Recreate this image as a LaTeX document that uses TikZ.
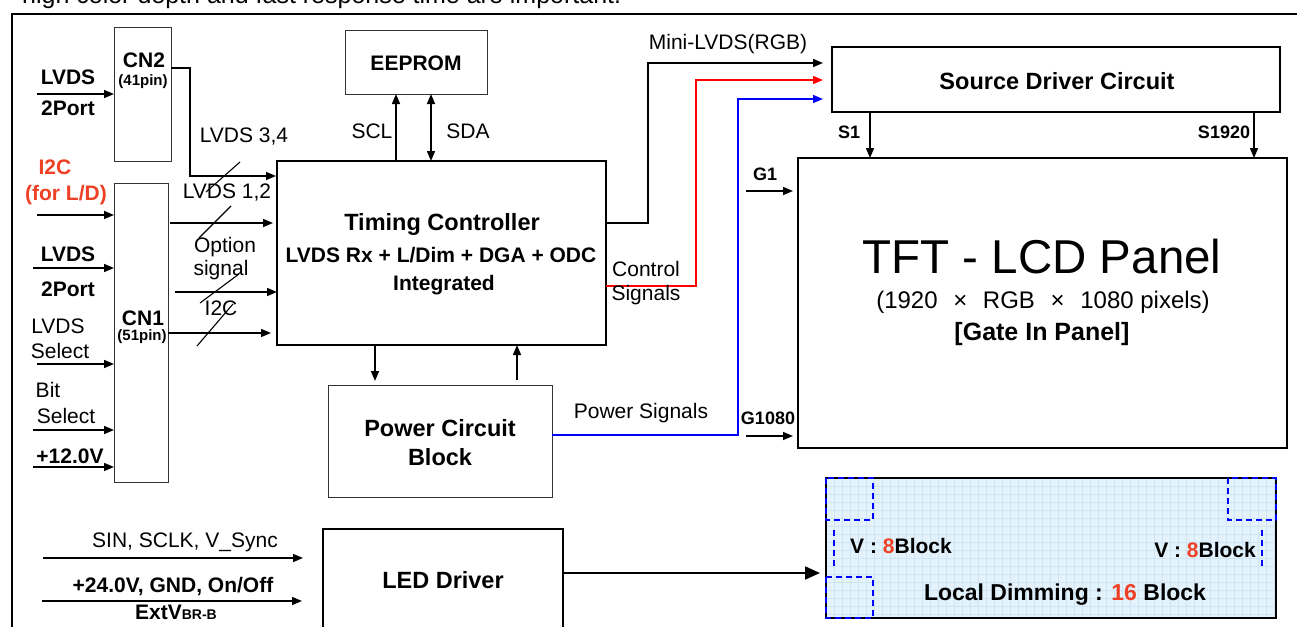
\documentclass[tikz,border=0pt]{standalone}
\usepackage{fontspec}
\setmainfont{Liberation Sans}
\usetikzlibrary{arrows.meta}
\newcommand\fsz[1]{\fontsize{#1}{#1}\selectfont}
\definecolor{lred}{RGB}{238,64,36}
\definecolor{ldfill}{RGB}{228,242,252}
\definecolor{ldgrid}{RGB}{206,229,246}
\begin{document}
\begin{tikzpicture}[x=1pt,y=-1pt,
  box/.style={draw, line width=1.3pt, inner sep=0pt, outer sep=0pt},
  thinbox/.style={draw=black!80, line width=0.9pt, inner sep=0pt, outer sep=0pt},
  txt/.style={inner sep=0pt, font=\fsz{21}},
  btxt/.style={inner sep=0pt, font=\fsz{21}\bfseries},
  rtxt/.style={inner sep=0pt, font=\fsz{21}\bfseries, text=lred},
  conn/.style={line width=1.5pt, -{Triangle[length=10pt,width=8pt]}},
  slash/.style={line width=1.1pt},
  bdash/.style={draw=blue, line width=1.5pt, dash pattern=on 6pt off 4pt},
]
\useasboundingbox (0,0) rectangle (1297,626);
\clip (0,0) rectangle (1297,626);
\fill[white] (0,0) rectangle (1297,626);

% outer frame and cut-off caption
\draw[line width=1.4pt] (12,660) -- (12,14) -- (1310,14);
\node[inner sep=0pt, font=\fsz{25}, anchor=base west] (toptext) at (22,4) {high color depth and fast response time are important.};

% ---------- boxes ----------
\node[thinbox, minimum width=57pt, minimum height=134pt] (cn2) at (142.5,94) {};
\node[thinbox, minimum width=54pt, minimum height=299pt] (cn1) at (141,332.5) {};
\node[box, line width=1.8pt, minimum width=329pt, minimum height=184pt] (tcon) at (441.5,253) {};
\node[thinbox, minimum width=142pt, minimum height=64pt] (eeprom) at (416,62) {};
\node[thinbox, minimum width=224pt, minimum height=112pt] (power) at (440,441) {};
\node[box, minimum width=448pt, minimum height=65pt] (source) at (1056,79.5) {};
\node[box, minimum width=489pt, minimum height=290pt] (panel) at (1042.5,303) {};
\node[box, minimum width=240pt, minimum height=111pt] (led) at (443,584.5) {};
\node[fill=ldfill, inner sep=0pt, outer sep=0pt, minimum width=450pt, minimum height=140pt] (ldbox) at (1051,548) {};
\begin{scope}
\clip (ldbox.north west) rectangle (ldbox.south east);
\foreach \gx in {834,842,...,1274} \draw[ldgrid, line width=0.5pt] (\gx,470) -- (\gx,630);
\foreach \gy in {486,494,...,614} \draw[ldgrid, line width=0.5pt] (820,\gy) -- (1280,\gy);
\end{scope}
\draw[line width=1.6pt] (ldbox.north west) rectangle (ldbox.south east);
\draw[bdash] (826,478) rectangle (873,520);
\draw[bdash] (1228,478) rectangle (1276,520);
\draw[bdash] (826,577) rectangle (873,618);
\draw[bdash] (834,530) -- (834,566);
\draw[bdash] (1262,530) -- (1262,566);

% ---------- box texts ----------
\node[btxt] (cn2t) at (144,60) {CN2};
\node[inner sep=0pt, font=\fsz{15}\bfseries] (cn2p) at (143,82) {(41pin)};
\node[btxt] (cn1t) at (143,318) {CN1};
\node[inner sep=0pt, font=\fsz{15}\bfseries] (cn1p) at (142,337) {(51pin)};
\node[inner sep=0pt, font=\fsz{23.5}\bfseries] (tcon1) at (442,224) {Timing Controller};
\node[btxt] (tcon2) at (441,255) {LVDS Rx + L/Dim + DGA + ODC};
\node[btxt] (tcon3) at (444,285) {Integrated};
\node[btxt] (eepromt) at (416,63) {EEPROM};
\node[inner sep=0pt, font=\fsz{23.5}\bfseries] (pow1) at (440,428) {Power Circuit};
\node[inner sep=0pt, font=\fsz{23.5}\bfseries] (pow2) at (440,457) {Block};
\node[inner sep=0pt, font=\fsz{23.5}\bfseries] (sourcet) at (1057,81) {Source Driver Circuit};
\node[inner sep=0pt, font=\fsz{47.5}] (panel1) at (1042,257) {TFT - LCD Panel};
\node[inner sep=0pt, font=\fsz{24}] (panel2) at (1043,302) {(1920\hspace{9pt} × \hspace{9pt}RGB\hspace{9pt} × \hspace{9pt}1080 pixels)};
\node[inner sep=0pt, font=\fsz{25}\bfseries] (panel3) at (1042,334) {[Gate In Panel]};
\node[inner sep=0pt, font=\fsz{23.5}\bfseries] (ledt) at (443,580) {LED Driver};
\node[btxt] (v8a) at (901,546) {V : \textcolor{lred}{8}Block};
\node[btxt] (v8b) at (1205,550) {V : \textcolor{lred}{8}Block};
\node[inner sep=0pt, font=\fsz{23}\bfseries] (ld16) at (1065,595) {Local Dimming : \textcolor{lred}{16} Block};

% ---------- left input labels ----------
\node[btxt] (l1a) at (68,77) {LVDS};
\node[btxt] (l1b) at (68,108) {2Port};
\node[rtxt] (i2ca) at (55,167) {I2C};
\node[rtxt] (i2cb) at (66,195) {(for L/D)};
\node[btxt] (l2a) at (68,254) {LVDS};
\node[btxt] (l2b) at (68,289) {2Port};
\node[txt] (lsa) at (58,326) {LVDS};
\node[txt] (lsb) at (60,351) {Select};
\node[txt] (bsa) at (48,390) {Bit};
\node[txt] (bsb) at (66,416) {Select};
\node[btxt] (v12) at (70,456) {+12.0V};

% ---------- left inputs ----------
\coordinate (inL1) at (37,94);
\coordinate (inI2C) at (37,215);
\coordinate (inL2) at (33,268);
\coordinate (inLS) at (37,364);
\coordinate (inBS) at (33,430);
\coordinate (in12) at (33,467);
\draw[conn] (inL1) -- (inL1 -| cn2.west);
\draw[conn] (inI2C) -- (inI2C -| cn1.west);
\draw[conn] (inL2) -- (inL2 -| cn1.west);
\draw[conn] (inLS) -- (inLS -| cn1.west);
\draw[conn] (inBS) -- (inBS -| cn1.west);
\draw[conn] (in12) -- (in12 -| cn1.west);

% ---------- CN -> Timing controller ----------
\coordinate (cn2o) at (171,68);
\draw[conn, shorten >=1pt] (cn2o) -- (190,68) -- (190,176) -- (tcon.west |- 0,176);
\node[txt] (lv34) at (244,137) {LVDS 3,4};
\draw[slash] (240,162) -- (206,192);

\coordinate (cn1oA) at (170,223);
\coordinate (cn1oB) at (175,292);
\coordinate (cn1oC) at (168,333);
\draw[conn, shorten >=4pt] (cn1oA) -- (cn1oA -| tcon.west);
\draw[conn] (cn1oB) -- (cn1oB -| tcon.west);
\draw[conn, shorten >=6pt] (cn1oC) -- (cn1oC -| tcon.west);
\node[txt] (lv12) at (227,193) {LVDS 1,2};
\draw[slash] (231,206) -- (199,238);
\node[txt] (opt1) at (225,247) {Option};
\node[txt] (opt2) at (221,270) {signal};
\draw[slash] (239,274) -- (200,303);
\node[txt] (i2cl) at (221,308) {I2C};
\draw[slash] (233,304) -- (197,346);

% ---------- EEPROM ----------
\draw[conn] (tcon.north -| 396,0) -- (eeprom.south -| 396,0);
\draw[line width=1.5pt, {Triangle[length=10pt,width=8pt]}-{Triangle[length=10pt,width=8pt]}] (eeprom.south -| 431,0) -- (tcon.north -| 431,0);
\node[txt] (scl) at (372,131) {SCL};
\node[txt] (sda) at (468,131) {SDA};

% ---------- TCON <-> power ----------
\draw[conn, shorten >=4pt] (tcon.south -| 375,0) -- (power.north -| 375,0);
\draw[conn, shorten <=5pt] (power.north -| 517,0) -- (tcon.south -| 517,0);

% ---------- to source driver ----------
\draw[conn, shorten >=9pt] (tcon.east |- 0,223) -- (648,223) -- (648,63) -- (source.west |- 0,63);
\draw[conn, red, shorten >=9pt] (tcon.east |- 0,286) -- (696,286) -- (696,80) -- (source.west |- 0,80);
\draw[conn, blue, shorten >=9pt] (power.east |- 0,435) -- (738,435) -- (738,99) -- (source.west |- 0,99);
\node[txt] (mini) at (728,44) {Mini-LVDS(RGB)};
\node[txt] (ctl1) at (646,269) {Control};
\node[txt] (ctl2) at (646,295) {Signals};
\node[txt] (pws) at (641,413) {Power Signals};

% ---------- source -> panel ----------
\draw[conn] (source.south -| 870,0) -- (panel.north -| 870,0);
\draw[conn] (source.south -| 1254,0) -- (panel.north -| 1254,0);
\node[inner sep=0pt, font=\fsz{18}\bfseries] (s1) at (849,132) {S1};
\node[inner sep=0pt, font=\fsz{18}\bfseries] (s1920) at (1224,132) {S1920};

% ---------- gate ----------
\coordinate (g1i) at (746,191);
\coordinate (g1080i) at (746,436);
\draw[conn, shorten >=5pt] (g1i) -- (g1i -| panel.west);
\draw[conn, shorten >=5pt] (g1080i) -- (g1080i -| panel.west);
\node[inner sep=0pt, font=\fsz{18}\bfseries] (g1) at (765,174) {G1};
\node[inner sep=0pt, font=\fsz{18}\bfseries] (g1080) at (768,418) {G1080};

% ---------- LED driver ----------
\coordinate (sinI) at (43,558);
\coordinate (pwrI) at (42,601);
\draw[conn, shorten >=20pt] (sinI) -- (sinI -| led.west);
\draw[conn, shorten >=21pt] (pwrI) -- (pwrI -| led.west);
\node[txt] (sin) at (185,542) {SIN, SCLK, V\_Sync};
\node[btxt] (p24) at (173,587) {+24.0V, GND, On/Off};
\node[btxt, anchor=base] (ext) at (176,619) {ExtV{\fsz{14}BR-B}};
\draw[line width=2pt, -{Triangle[length=15pt,width=13pt]}, shorten >=6pt] (led.east |- 0,573) -- (ldbox.west |- 0,573);
\end{tikzpicture}
\end{document}
